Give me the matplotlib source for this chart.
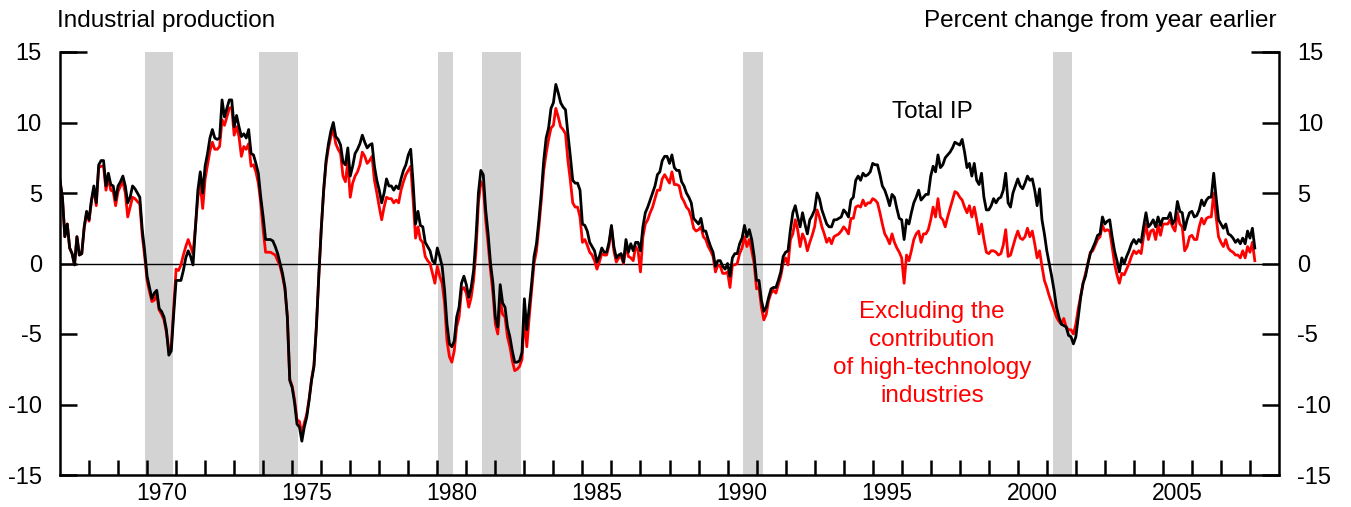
import matplotlib
matplotlib.use("Agg")
import matplotlib.pyplot as plt
import numpy as np

plt.rcParams['font.family'] = ['Liberation Sans', 'DejaVu Sans']

# monthly, year-over-year percent change, Jan 1967 - Mar 2008
start_year = 1967
total_ip = [
    5.9, 4.7, 1.9, 2.8, 1.1, 0.7, -0.1, 1.9, 0.6, 0.7, 2.6, 3.7,          # 1967
    3.1, 4.5, 5.5, 4.3, 7.0, 7.3, 7.3, 5.5, 6.4, 5.6, 5.5, 4.5,           # 1968
    5.5, 5.8, 6.2, 5.5, 4.3, 4.7, 5.5, 5.3, 5.0, 4.7, 2.4, 0.9,           # 1969
    -0.9, -1.7, -2.5, -2.1, -1.9, -3.2, -3.4, -3.8, -4.7, -6.5, -6.2, -3.6,  # 1970
    -1.2, -1.2, -1.2, -0.5, 0.4, 0.9, 0.5, -0.1, 2.6, 5.2, 6.5, 5.0,      # 1971
    6.9, 7.8, 8.9, 9.5, 8.9, 8.8, 8.9, 11.6, 10.4, 11.0, 11.6, 11.6,      # 1972
    9.7, 10.5, 9.7, 9.0, 9.2, 8.9, 9.5, 7.8, 7.7, 7.1, 6.4, 4.7,          # 1973
    3.3, 1.7, 1.7, 1.7, 1.6, 1.2, 0.7, 0.0, -0.7, -1.7, -3.8, -8.3,       # 1974
    -8.8, -9.9, -11.4, -11.6, -12.6, -11.6, -10.9, -9.7, -8.3, -7.3, -4.5, -0.9,  # 1975
    2.4, 5.2, 7.3, 8.5, 9.4, 10.0, 9.0, 8.8, 8.4, 7.2, 7.0, 8.2,          # 1976
    6.2, 6.9, 7.8, 8.1, 8.5, 9.1, 8.6, 8.2, 8.4, 8.5, 6.9, 5.9,           # 1977
    5.2, 4.3, 5.0, 6.0, 5.5, 5.5, 5.2, 5.5, 5.3, 6.0, 6.6, 7.0,           # 1978
    7.7, 8.1, 5.7, 2.8, 3.7, 2.7, 2.6, 1.5, 1.2, 0.9, 0.2, 0.0,           # 1979
    1.1, 0.5, -0.2, -1.9, -4.3, -5.7, -5.9, -5.5, -3.8, -3.1, -1.4, -0.9,  # 1980
    -1.5, -2.4, -1.7, -0.5, 1.9, 5.0, 6.6, 6.3, 3.8, 2.1, 0.0, -1.4,      # 1981
    -3.8, -4.5, -1.5, -2.8, -3.1, -4.5, -5.2, -6.2, -7.0, -7.0, -6.9, -6.3,  # 1982
    -2.5, -4.7, -3.1, -1.4, 0.5, 1.4, 3.1, 5.0, 7.3, 8.9, 9.6, 11.0,      # 1983
    11.4, 12.7, 12.1, 11.4, 11.1, 10.9, 9.2, 7.6, 5.9, 5.7, 5.7, 5.2,     # 1984
    2.8, 2.7, 2.3, 1.5, 1.2, 0.9, 0.1, 0.5, 1.1, 0.8, 0.8, 1.5,           # 1985
    2.7, 1.2, 0.4, 0.6, 0.7, 0.1, 1.7, 0.8, 1.4, 0.9, 1.5, 1.5,           # 1986
    0.9, 2.6, 3.6, 4.0, 4.5, 5.0, 5.5, 6.3, 6.5, 7.3, 7.6, 7.6,           # 1987
    7.1, 7.7, 6.8, 6.6, 6.6, 5.8, 5.5, 5.0, 4.7, 4.3, 3.2, 3.0,           # 1988
    2.8, 3.2, 2.3, 2.3, 1.7, 1.2, 0.8, -0.2, 0.2, 0.2, -0.2, -0.4,        # 1989
    0.0, -0.9, 0.4, 0.7, 0.7, 1.4, 1.8, 2.7, 1.9, 2.4, 1.7, 0.5,          # 1990
    -1.2, -1.2, -2.6, -3.4, -3.1, -2.4, -1.8, -1.7, -1.7, -1.2, -0.6, 0.5,  # 1991
    0.8, 0.9, 2.4, 3.6, 4.1, 3.3, 2.6, 3.6, 2.8, 2.1, 3.1, 3.4,           # 1992
    3.8, 5.0, 4.6, 3.8, 3.3, 2.8, 2.6, 2.6, 3.1, 3.1, 3.2, 3.3,           # 1993
    3.8, 3.6, 3.3, 4.5, 4.7, 5.9, 6.2, 5.9, 6.4, 6.2, 6.3, 6.5,           # 1994
    7.1, 7.0, 7.0, 6.3, 5.5, 5.2, 4.7, 4.1, 4.9, 4.7, 3.9, 3.2,           # 1995
    3.1, 1.7, 3.1, 2.8, 3.6, 4.3, 4.7, 5.2, 4.5, 4.7, 4.9, 4.9,           # 1996
    6.2, 6.9, 6.5, 7.7, 6.8, 7.0, 7.5, 7.7, 7.9, 8.2, 8.6, 8.5,           # 1997
    8.4, 8.8, 7.9, 6.8, 7.1, 6.2, 7.1, 5.9, 5.6, 6.4, 4.7, 3.8,           # 1998
    3.8, 4.1, 4.6, 4.3, 4.6, 4.7, 5.2, 6.4, 4.3, 4.0, 5.0, 5.5,           # 1999
    6.0, 5.5, 5.3, 5.7, 6.2, 5.9, 6.0, 5.2, 4.1, 5.3, 3.1, 2.1,           # 2000
    0.9, 0.0, -0.9, -1.9, -3.1, -3.8, -4.3, -4.4, -4.5, -5.1, -5.2, -5.7,  # 2001
    -5.2, -3.8, -2.4, -1.4, -0.9, 0.0, 0.7, 1.1, 1.5, 2.0, 2.1, 3.3,      # 2002
    2.8, 3.0, 3.1, 1.9, 0.9, 0.2, -0.6, 0.4, 0.0, 0.5, 0.9, 1.4,          # 2003
    1.7, 1.4, 1.7, 1.5, 2.6, 3.6, 2.6, 2.8, 3.1, 2.6, 3.3, 2.7,           # 2004
    3.2, 3.2, 3.2, 3.6, 2.8, 3.1, 4.4, 3.7, 3.6, 2.4, 3.1, 3.6,           # 2005
    3.7, 3.3, 3.4, 3.8, 4.5, 4.1, 4.5, 4.7, 4.7, 6.4, 4.7, 3.1,           # 2006
    2.8, 2.5, 2.8, 2.1, 2.0, 1.8, 1.5, 1.7, 1.4, 1.8, 1.4, 2.3,           # 2007
    1.8, 2.5, 1.1,                                                        # 2008
]
ex_hightech = [
    5.8, 4.6, 1.9, 2.8, 1.1, 0.7, -0.1, 1.9, 0.6, 0.7, 2.5, 3.6,
    3.0, 4.4, 5.3, 4.1, 6.8, 6.9, 6.9, 5.2, 6.1, 5.2, 5.1, 4.1,
    5.1, 5.5, 5.8, 5.0, 3.3, 4.0, 4.7, 4.6, 4.4, 4.2, 2.0, 0.5,
    -1.2, -2.0, -2.7, -2.6, -2.2, -3.3, -3.6, -4.0, -4.9, -6.1, -5.9, -3.2,
    -0.4, -0.5, -0.1, 0.6, 1.2, 1.7, 1.2, 0.7, 2.6, 4.7, 5.6, 3.9,
    6.0, 7.0, 8.0, 8.6, 8.1, 8.1, 8.3, 10.2, 9.8, 10.4, 11.0, 11.1,
    9.1, 9.7, 9.0, 7.6, 8.3, 8.1, 8.5, 6.9, 7.0, 6.5, 5.7, 4.3,
    2.4, 0.8, 0.8, 0.8, 0.7, 0.6, 0.2, -0.2, -0.9, -1.8, -3.8, -8.2,
    -8.7, -9.7, -11.1, -11.2, -12.1, -11.3, -10.7, -9.6, -8.2, -7.2, -4.5, -0.9,
    2.4, 5.1, 7.1, 8.2, 9.0, 9.5, 8.5, 8.1, 7.8, 6.2, 5.8, 7.2,
    4.7, 5.7, 6.2, 6.5, 7.0, 7.9, 7.6, 7.1, 7.3, 7.6, 5.9, 5.0,
    4.0, 3.1, 4.0, 4.7, 4.6, 4.6, 4.3, 4.5, 4.3, 5.2, 5.8, 6.3,
    6.6, 6.9, 4.5, 1.8, 2.6, 1.7, 1.5, 0.5, 0.2, 0.0, -0.7, -1.4,
    -0.2, -0.9, -1.4, -2.8, -5.5, -6.6, -7.0, -6.2, -4.5, -3.8, -1.9, -1.7,
    -2.1, -3.1, -2.4, -1.2, 0.9, 4.3, 5.8, 5.5, 3.1, 1.4, -0.5, -2.1,
    -4.3, -5.0, -2.6, -3.6, -3.8, -5.2, -5.9, -6.9, -7.6, -7.5, -7.3, -6.8,
    -3.8, -5.9, -3.8, -1.9, 0.0, 0.9, 2.6, 4.5, 6.6, 7.8, 8.8, 9.6,
    9.8, 11.0, 10.4, 9.7, 9.5, 9.2, 7.3, 5.9, 4.3, 4.0, 4.0, 3.3,
    1.5, 1.7, 1.3, 0.8, 0.6, 0.2, -0.4, 0.1, 0.7, 0.6, 0.6, 1.3,
    2.6, 0.9, 0.1, 0.4, 0.5, 0.0, 1.3, 0.5, 0.4, 0.2, 1.2, 0.9,
    -0.6, 1.9, 2.8, 3.1, 3.6, 4.0, 4.6, 5.2, 5.2, 6.0, 6.3, 6.0,
    5.7, 6.5, 5.6, 5.6, 5.5, 4.7, 4.4, 4.0, 3.8, 3.3, 2.5, 2.3,
    2.4, 2.6, 1.9, 1.7, 1.2, 0.9, 0.5, -0.6, -0.1, -0.2, -0.7, -0.7,
    -0.6, -1.7, -0.1, -0.1, 0.0, 0.7, 1.1, 1.9, 1.2, 1.7, 0.9, 0.0,
    -1.8, -1.7, -3.1, -4.0, -3.6, -2.6, -2.1, -1.9, -2.1, -1.5, -0.9, 0.0,
    0.4, -0.1, 1.7, 2.1, 3.1, 2.4, 1.2, 2.1, 1.7, 0.9, 1.5, 2.0,
    2.6, 3.8, 3.3, 2.6, 2.1, 1.5, 1.8, 1.4, 1.9, 2.0, 2.1, 2.3,
    2.6, 2.4, 2.1, 3.2, 3.2, 4.0, 4.1, 4.0, 4.5, 4.1, 4.3, 4.3,
    4.6, 4.5, 4.3, 3.6, 2.8, 2.1, 1.8, 1.4, 2.1, 1.5, 1.1, 0.8,
    0.4, -1.4, 0.6, 0.2, 0.9, 1.7, 2.1, 2.3, 1.5, 2.1, 2.1, 2.4,
    3.1, 4.0, 3.3, 4.6, 3.3, 3.1, 2.6, 3.3, 3.9, 4.5, 5.1, 5.0,
    4.7, 4.5, 4.0, 3.6, 4.1, 3.3, 4.0, 3.1, 2.1, 2.8, 1.7, 0.8,
    0.7, 0.9, 0.9, 0.8, 0.6, 0.7, 1.3, 2.4, 0.5, 0.6, 1.2, 1.8,
    2.3, 1.8, 1.7, 1.9, 2.5, 1.9, 2.3, 1.4, 0.4, 0.9, -0.2, -1.2,
    -1.7, -2.3, -2.8, -3.3, -3.8, -4.1, -4.3, -3.9, -4.5, -4.7, -4.7, -5.0,
    -4.3, -3.2, -2.3, -1.4, -0.7, 0.0, 0.8, 0.9, 1.3, 1.7, 1.9, 2.7,
    2.3, 2.4, 2.3, 1.2, 0.0, -0.8, -1.4, -0.7, -0.8, -0.4, 0.0, 0.5,
    0.9, 0.7, 0.9, 0.7, 1.9, 2.8, 1.7, 2.3, 2.4, 1.7, 2.7, 2.0,
    2.8, 2.8, 2.8, 3.1, 2.6, 2.3, 3.6, 2.8, 2.6, 0.9, 1.2, 1.9,
    2.0, 1.7, 1.7, 2.6, 3.2, 2.8, 3.2, 3.3, 3.3, 5.0, 3.3, 1.9,
    1.5, 1.2, 1.7, 1.1, 0.9, 0.8, 0.6, 0.6, 0.4, 0.9, 0.4, 1.2,
    0.8, 1.5, 0.2,
]

# recessions (decimal years)
rec_start = [1969.92, 1973.86, 1980.02, 1981.53, 1990.53, 2001.20]
rec_end = [1970.89, 1975.21, 1980.55, 1982.89, 1991.22, 2001.88]

year_labels = [1970, 1975, 1980, 1985, 1990, 1995, 2000, 2005]
y_ticks = [-15, -10, -5, 0, 5, 10, 15]

dates = start_year + np.arange(len(total_ip)) / 12.0

fig = plt.figure(figsize=(13.51, 5.07), dpi=100)
ax = fig.add_axes([60/1351, 1 - 475/507, 1219/1351, 423/507])

for s, e in zip(rec_start, rec_end):
    ax.axvspan(s, e, color='#d3d3d3', lw=0, zorder=0)

ax.axhline(0, color='black', lw=1.0, zorder=1)
ax.plot(dates, ex_hightech, color='#ff0000', lw=2.0, zorder=2)
ax.plot(dates, total_ip, color='black', lw=2.0, zorder=3)

ax.set_xlim(1967, 2009)
ax.set_ylim(-15, 15)

# axes frame: no top spine
ax.spines['top'].set_visible(False)
for side in ['left', 'right', 'bottom']:
    ax.spines[side].set_linewidth(1.8)

ax.set_xticks(np.arange(1968, 2009))
ax.set_xticklabels([])
ax.set_xticks([y + 0.5 for y in year_labels], minor=True)
ax.set_xticklabels([str(y) for y in year_labels], minor=True)
ax.tick_params(axis='x', which='major', direction='in', length=11, width=1.8)
ax.tick_params(axis='x', which='minor', length=0, pad=5, labelsize=16.5)

ax.set_yticks(y_ticks)
ax.set_yticklabels([str(v) for v in y_ticks])
ax.tick_params(axis='y', direction='in', length=12, width=1.8, labelsize=17,
               left=True, right=True, labelleft=True, labelright=True, pad=13)

# longer tick marks at the top (15)
ax.plot([0, 27/1219], [1, 1], transform=ax.transAxes, color='black', lw=1.8,
        clip_on=False, solid_capstyle='butt')
ax.plot([1 - 28/1219, 1], [1, 1], transform=ax.transAxes, color='black', lw=1.8,
        clip_on=False, solid_capstyle='butt')

fig.text(57/1351, 1 - 27/507, 'Industrial production', fontsize=17.5,
         ha='left', va='baseline')
fig.text(1277/1351, 1 - 27/507, 'Percent change from year earlier', fontsize=17.5,
         ha='right', va='baseline')

ax.text(1997.05, 10.75, 'Total IP', fontsize=17.5, ha='center', va='center')
ax.text(1997.05, -6.4, 'Excluding the\ncontribution\nof high-technology\nindustries',
        fontsize=17.5, color='#ff0000', ha='center', va='center', linespacing=1.36)

fig.savefig('out.png', dpi=100)
